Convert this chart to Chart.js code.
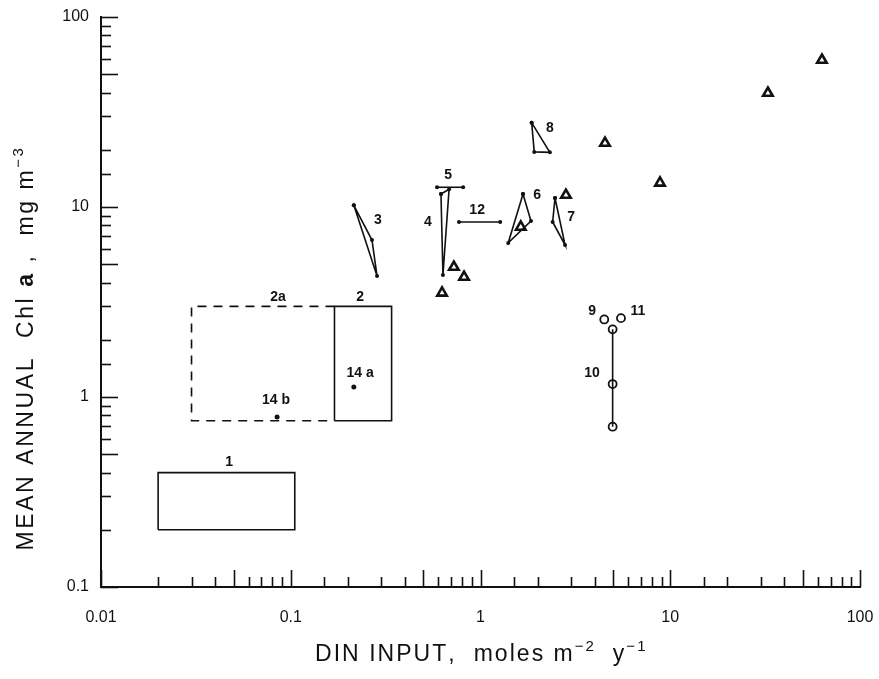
<!DOCTYPE html>
<html>
<head>
<meta charset="utf-8">
<script src="https://cdn.jsdelivr.net/npm/chart.js@4.4.1/dist/chart.umd.min.js"></script>
<style>
  html, body { margin: 0; padding: 0; background: #fff; }
  #wrap { width: 879px; height: 679px; }
</style>
</head>
<body>
<div id="wrap"><canvas id="chart" width="879" height="679"></canvas></div>
<script>
// decade labels on the two log axes
const xTickLabels = ['0.01', '0.1', '1', '10', '100'];
const yTickLabels = ['0.1', '1', '10', '100'];

// rectangles (DIN range x Chl range), as closed outlines [x, y]
const box1 = [[0.02, 0.2], [0.02, 0.4], [0.105, 0.4], [0.105, 0.2], [0.02, 0.2]];
const box2 = [[0.17, 0.75], [0.17, 3], [0.34, 3], [0.34, 0.75], [0.17, 0.75]];
const box2a = [[0.17, 3], [0.03, 3], [0.03, 0.75], [0.17, 0.75]];

// polygons joining the years of one system
const poly3 = [[0.215, 10.2], [0.268, 6.7], [0.285, 4.33], [0.215, 10.2]];
const poly4 = [[0.619, 11.7], [0.683, 12.4], [0.634, 4.39], [0.619, 11.7]];
const poly6 = [[1.675, 11.7], [1.845, 8.43], [1.40, 6.47], [1.675, 11.7]];
const poly7 = [[2.47, 11.15], [2.40, 8.34], [2.79, 6.31], [2.47, 11.15]];
const poly8 = [[1.86, 27.8], [1.92, 19.5], [2.32, 19.4], [1.86, 27.8]];

// horizontal ranges
const seg5 = [[0.59, 12.7], [0.81, 12.7]];
const seg12 = [[0.77, 8.34], [1.27, 8.34]];

// single points
const dots14 = [[0.215, 1.13], [0.0847, 0.785]];
const triangles = [[0.724, 4.83], [0.819, 4.28], [0.627, 3.53], [1.63, 7.85], [2.82, 11.56],
                   [4.53, 21.7], [8.83, 13.4], [32.7, 39.8], [63, 59.4]];
const circles = [[4.49, 2.56], [5.50, 2.60], [4.97, 2.27], [4.97, 1.17], [4.97, 0.698]];
const line10 = [[4.97, 2.27], [4.97, 1.17], [4.97, 0.698]];

// system numbers written next to the marks
const markLabels = [
    ['1', 0.0473, 0.455], ['2a', 0.0857, 3.36], ['2', 0.232, 3.36], ['14 a', 0.232, 1.34],
    ['14 b', 0.0836, 0.965], ['3', 0.288, 8.55], ['4', 0.528, 8.34], ['5', 0.675, 14.7],
    ['12', 0.96, 9.64], ['6', 1.99, 11.56], ['7', 3.0, 8.86], ['8', 2.32, 26.1],
    ['9', 3.87, 2.84], ['11', 6.76, 2.84], ['10', 3.87, 1.34]
];

const INK = '#111';
const FAMILY = '"Liberation Sans", Arial, sans-serif';
const toPts = arr => arr.map(p => ({ x: p[0], y: p[1] }));

function outline(data, extra) {
    return Object.assign({
        data: toPts(data),
        showLine: true,
        borderColor: INK,
        borderWidth: 1.6,
        pointRadius: 0,
        tension: 0,
        fill: false
    }, extra || {});
}

function polygon(data) {
    return outline(data, { pointRadius: 2, pointBackgroundColor: INK, pointBorderWidth: 0 });
}

function isDecade(v) {
    const l = Math.log10(v);
    return Math.abs(l - Math.round(l)) < 1e-6;
}

// inward tick marks, long at decades and at 5
const inwardTicks = {
    id: 'inwardTicks',
    afterDraw(chart) {
        const ctx = chart.ctx;
        const xs = chart.scales.x, ys = chart.scales.y;
        const area = chart.chartArea;
        ctx.save();
        ctx.strokeStyle = INK;
        ctx.lineWidth = 1.6;
        const lenFor = v => {
            const m = v / Math.pow(10, Math.floor(Math.log10(v) + 1e-9));
            return (Math.abs(m - 1) < 1e-6 || Math.abs(m - 5) < 1e-6) ? 17 : 10;
        };
        xs.ticks.forEach(t => {
            const px = Math.round(xs.getPixelForValue(t.value)) + 0.5;
            ctx.beginPath();
            ctx.moveTo(px, area.bottom);
            ctx.lineTo(px, area.bottom - lenFor(t.value));
            ctx.stroke();
        });
        ys.ticks.forEach(t => {
            const py = Math.round(ys.getPixelForValue(t.value)) + 0.5;
            ctx.beginPath();
            ctx.moveTo(area.left, py);
            ctx.lineTo(area.left + lenFor(t.value), py);
            ctx.stroke();
        });
        ctx.restore();
    }
};

// numbers beside the marks and the two axis titles
const textLayer = {
    id: 'textLayer',
    afterDraw(chart) {
        const ctx = chart.ctx;
        const xs = chart.scales.x, ys = chart.scales.y;
        ctx.save();
        ctx.fillStyle = INK;
        ctx.textAlign = 'center';
        ctx.textBaseline = 'middle';
        ctx.font = 'bold 14px ' + FAMILY;
        markLabels.forEach(l => {
            ctx.fillText(l[0], xs.getPixelForValue(l[1]), ys.getPixelForValue(l[2]));
        });

        // pieces: [text, font, raise]; spread out to a given length
        const drawPieces = (pieces, cx, cy, length, rotate) => {
            let total = 0, chars = 0;
            pieces.forEach(p => {
                ctx.font = p[1];
                total += ctx.measureText(p[0]).width;
                chars += p[0].length;
            });
            const gap = Math.max(0, (length - total) / chars);
            const used = total + gap * chars;
            ctx.save();
            ctx.translate(cx, cy);
            if (rotate) ctx.rotate(-Math.PI / 2);
            ctx.textAlign = 'left';
            ctx.textBaseline = 'middle';
            let x = -used / 2;
            pieces.forEach(p => {
                ctx.font = p[1];
                for (const ch of p[0]) {
                    ctx.fillText(ch, x, -p[2]);
                    x += ctx.measureText(ch).width + gap;
                }
            });
            ctx.restore();
        };
        const f = '23px ' + FAMILY;
        const fb = 'bold 23px ' + FAMILY;
        const fs = '15px ' + FAMILY;
        drawPieces([['DIN INPUT,  moles m', f, 0], ['\u22122', fs, 8], ['  y', f, 0], ['\u22121', fs, 8]],
            480, 655, 330, false);
        drawPieces([['MEAN ANNUAL  Chl ', f, 0], ['a', fb, 0], [' ,  mg m', f, 0], ['\u22123', fs, 8]],
            27, 348, 405, true);
        ctx.restore();
    }
};

const tickFont = { family: FAMILY, size: 16 };

new Chart(document.getElementById('chart'), {
    type: 'scatter',
    data: {
        datasets: [
            outline(box1),
            outline(box2),
            outline(box2a, { borderDash: [9, 7] }),
            polygon(poly3),
            polygon(poly4),
            polygon(poly6),
            polygon(poly7),
            polygon(poly8),
            polygon(seg5),
            polygon(seg12),
            outline(line10),
            {
                data: toPts(dots14),
                pointRadius: 2.5,
                pointBackgroundColor: INK,
                pointBorderWidth: 0
            },
            {
                data: toPts(triangles),
                pointStyle: 'triangle',
                pointRadius: 5.5,
                pointBorderWidth: 2.6,
                pointBorderColor: INK,
                pointBackgroundColor: '#fff'
            },
            {
                data: toPts(circles),
                pointStyle: 'circle',
                pointRadius: 4,
                pointBorderWidth: 1.8,
                pointBorderColor: INK,
                pointBackgroundColor: '#fff'
            }
        ]
    },
    options: {
        responsive: false,
        animation: false,
        devicePixelRatio: 1,
        layout: { padding: { top: 17, right: 19, left: 0, bottom: 0 } },
        plugins: { legend: { display: false }, tooltip: { enabled: false } },
        scales: {
            x: {
                type: 'logarithmic',
                position: 'bottom',
                min: 0.01,
                max: 100,
                grid: { display: false, drawTicks: false },
                border: { display: true, color: INK, width: 2 },
                ticks: {
                    autoSkip: false,
                    maxRotation: 0,
                    padding: 21,
                    color: INK,
                    font: tickFont,
                    callback: v => isDecade(v) ? xTickLabels[Math.round(Math.log10(v)) + 2] : ''
                },
                afterFit: s => { s.height = 92; s.paddingLeft = 0; s.paddingRight = 0; }
            },
            y: {
                type: 'logarithmic',
                position: 'left',
                min: 0.1,
                max: 100,
                grid: { display: false, drawTicks: false },
                border: { display: true, color: INK, width: 2 },
                ticks: {
                    autoSkip: false,
                    padding: 12,
                    color: INK,
                    font: tickFont,
                    callback: v => isDecade(v) ? yTickLabels[Math.round(Math.log10(v)) + 1] : ''
                },
                afterFit: s => { s.width = 101; s.paddingTop = 0; s.paddingBottom = 0; }
            }
        }
    },
    plugins: [inwardTicks, textLayer]
});
</script>
</body>
</html>
